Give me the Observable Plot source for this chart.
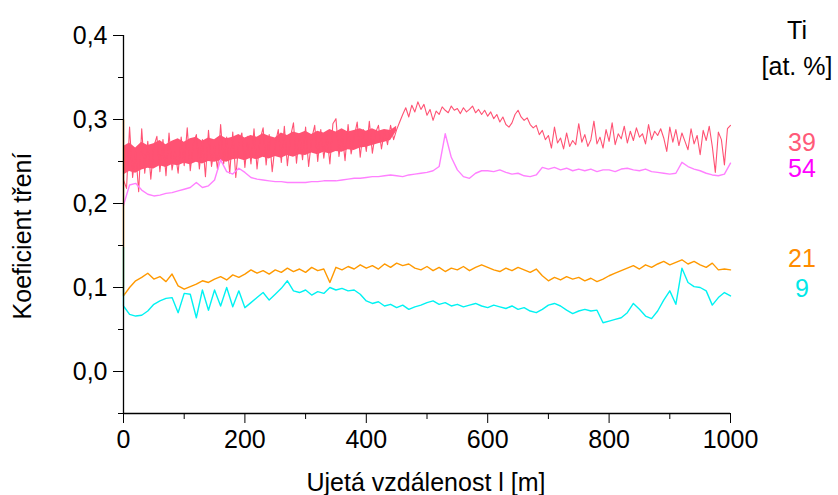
<!DOCTYPE html>
<html><head><meta charset="utf-8">
<script src="https://cdn.jsdelivr.net/npm/d3@7"></script>
<script src="https://cdn.jsdelivr.net/npm/@observablehq/plot@0.6"></script>
<style>
body{margin:0;background:#fff;}
#chart{position:relative;width:838px;height:495px;}
</style></head><body><div id="chart"></div>
<script>
// ---- data ----
const xTicks = [0, 200, 400, 600, 800, 1000];
const xMinor = [100, 300, 500, 700, 900];
const yTicks = [0, 0.1, 0.2, 0.3, 0.4];
const yMinor = [-0.05, 0.05, 0.15, 0.25, 0.35];
const tiLabels = ["39", "54", "21", "9"];

// Ti 39 (red), sampled every 5 m; start value at 0 m
const redStart = 0.300;
const red5 = [
0.228,0.218,0.291,0.231,0.262,0.214,0.289,0.236,0.274,0.229,
0.268,0.280,0.238,0.276,0.233,0.284,0.240,0.262,0.236,0.279,
0.245,0.290,0.239,0.271,0.282,0.241,0.276,0.232,0.287,0.244,
0.268,0.240,0.294,0.247,0.279,0.236,0.285,0.231,0.273,0.284,
0.243,0.280,0.247,0.289,0.241,0.276,0.290,0.246,0.282,0.238,
0.271,0.288,0.249,0.292,0.245,0.279,0.296,0.248,0.283,0.252,
0.291,0.244,0.277,0.293,0.250,0.288,0.254,0.282,0.247,0.295,
0.301,0.256,0.285,0.251,0.294,0.259,0.279,0.297,0.255,0.288,
0.262,0.298,0.260,0.284,0.293,0.265,0.287,0.270,0.293,0.276,
0.288,0.297,
0.306,0.314,0.303,0.317,0.309,0.321,0.312,0.318,0.305,0.312,
0.299,0.310,0.306,0.315,0.311,0.308,0.316,0.311,0.313,0.307,
0.314,0.309,0.312,0.316,0.308,0.312,0.306,0.311,0.304,0.309,
0.301,0.306,0.297,0.303,0.294,0.291,0.296,0.306,0.311,0.303,
0.299,0.302,0.294,0.290,0.293,0.282,0.287,0.276,0.281,0.266,
0.291,0.272,0.278,0.265,0.284,0.268,0.275,0.270,0.295,0.273,
0.282,0.268,0.276,0.298,0.271,0.279,0.266,0.288,0.274,0.296,
0.270,0.283,0.277,0.292,0.272,0.286,0.275,0.290,0.279,0.283,
0.271,0.294,0.276,0.286,0.281,0.289,0.278,0.262,0.291,0.273,
0.288,0.269,0.284,0.274,0.264,0.289,0.271,0.281,0.258,0.287,
0.275,0.292,0.268,0.237,0.285,0.276,0.246,0.289,0.293
];
// dense core of the Ti 39 band (every 10 m, 0–450 m)
const redCoreHi = [
0.268,0.272,0.266,0.273,0.269,0.271,0.275,0.270,0.274,0.277,
0.273,0.277,0.279,0.274,0.278,0.276,0.281,0.277,0.279,0.282,
0.278,0.281,0.279,0.283,0.280,0.278,0.284,0.281,0.285,0.283,
0.286,0.282,0.286,0.284,0.288,0.285,0.289,0.285,0.287,0.289,
0.286,0.289,0.286,0.288,0.287,0.292
];
const redCoreLo = [
0.234,0.238,0.236,0.240,0.242,0.241,0.245,0.243,0.246,0.245,
0.248,0.246,0.249,0.247,0.250,0.249,0.251,0.249,0.252,0.253,
0.251,0.254,0.252,0.255,0.253,0.256,0.254,0.257,0.255,0.258,
0.257,0.260,0.258,0.261,0.259,0.262,0.261,0.264,0.263,0.266,
0.267,0.269,0.271,0.273,0.275,0.286
];

// Ti 54 (magenta), every 10 m
const magenta10 = [
0.198,0.222,0.224,0.216,0.211,0.209,0.210,0.212,0.213,0.215,
0.217,0.219,0.225,0.219,0.221,0.228,0.252,0.238,0.235,0.242,
0.237,0.231,0.229,0.228,0.227,0.226,0.226,0.225,0.225,0.225,
0.225,0.226,0.226,0.227,0.227,0.227,0.228,0.229,0.230,0.230,
0.231,0.232,0.232,0.233,0.234,0.233,0.232,0.234,0.235,0.236,
0.237,0.239,0.244,0.283,0.255,0.240,0.232,0.230,0.236,0.239,
0.239,0.238,0.240,0.237,0.235,0.236,0.233,0.232,0.234,0.243,
0.241,0.243,0.240,0.242,0.239,0.241,0.239,0.241,0.238,0.240,
0.240,0.238,0.241,0.242,0.240,0.239,0.241,0.238,0.237,0.236,
0.235,0.236,0.249,0.244,0.241,0.239,0.236,0.234,0.233,0.235,
0.248
];

// Ti 21 (orange), every 10 m; start value at 0 m
const orangeStart = 0.300;
const orange10 = [
0.090,0.100,0.108,0.112,0.117,0.110,0.113,0.107,0.116,0.102,
0.098,0.101,0.104,0.108,0.106,0.110,0.113,0.109,0.115,0.112,
0.116,0.121,0.117,0.120,0.116,0.121,0.118,0.123,0.119,0.122,
0.118,0.124,0.120,0.122,0.106,0.124,0.121,0.125,0.122,0.127,
0.123,0.126,0.122,0.128,0.124,0.129,0.126,0.128,0.123,0.121,
0.125,0.120,0.124,0.119,0.123,0.121,0.125,0.120,0.124,0.127,
0.124,0.121,0.119,0.123,0.120,0.124,0.121,0.118,0.122,0.114,
0.108,0.112,0.109,0.113,0.110,0.112,0.108,0.111,0.107,0.110,
0.114,0.117,0.120,0.123,0.126,0.122,0.127,0.124,0.128,0.131,
0.127,0.130,0.133,0.128,0.131,0.127,0.124,0.129,0.121,0.122,
0.121
];

// Ti 9 (cyan), every 10 m; start value at 0 m
const cyanStart = 0.148;
const cyan10 = [
0.078,0.068,0.066,0.067,0.072,0.080,0.084,0.087,0.088,0.070,
0.093,0.092,0.064,0.097,0.073,0.097,0.078,0.100,0.077,0.096,
0.076,0.082,0.088,0.094,0.085,0.092,0.099,0.108,0.096,0.094,
0.097,0.091,0.095,0.093,0.100,0.097,0.099,0.096,0.097,0.092,
0.084,0.081,0.083,0.078,0.080,0.076,0.079,0.074,0.077,0.079,
0.082,0.084,0.080,0.082,0.078,0.080,0.077,0.079,0.081,0.078,
0.076,0.079,0.077,0.075,0.078,0.074,0.076,0.072,0.070,0.074,
0.079,0.081,0.078,0.073,0.069,0.072,0.074,0.072,0.073,0.058,
0.060,0.062,0.064,0.070,0.081,0.074,0.066,0.063,0.072,0.085,
0.096,0.080,0.123,0.106,0.101,0.100,0.096,0.079,0.088,0.094,
0.090
];

// ---- build tables ----
const series = (start, ys, step) => {
  const rows = ys.map((y, i) => ({x: i * step, y}));
  if (start != null) rows.unshift({x: 0, y: start});
  return rows;
};
const redRows = series(redStart, red5, 5);
const magRows = series(null, magenta10, 10);
const orRows = series(orangeStart, orange10, 10);
const cyRows = series(cyanStart, cyan10, 10);
const coreRows = redCoreHi.map((hi, i) => ({x: i * 10, lo: redCoreLo[i], hi}));

const C = {red: "#ff5273", mag: "#ff80ff", or: "#ff9900", cy: "#00f2f2"};
const labelColors = ["#ff5a78", "#ff00ff", "#ff8c00", "#00e8e8"];
const comma = d => d3.format(".1f")(d).replace(".", ",");
const FONT = "'Liberation Sans', Arial, sans-serif";

const chart = Plot.plot({
  width: 838, height: 495,
  marginLeft: 123, marginRight: 108, marginTop: 35, marginBottom: 82,
  x: {domain: [0, 1000]},
  y: {domain: [-0.05, 0.4]},
  style: {fontFamily: FONT, fontSize: "25px", color: "black", background: "white"},
  marks: [
    Plot.areaY(coreRows, {x: "x", y1: "lo", y2: "hi", fill: C.red}),
    Plot.lineY(redRows, {x: "x", y: "y", stroke: C.red, strokeWidth: 1.1}),
    Plot.lineY(magRows, {x: "x", y: "y", stroke: C.mag, strokeWidth: 1.4}),
    Plot.lineY(orRows, {x: "x", y: "y", stroke: C.or, strokeWidth: 1.4}),
    Plot.lineY(cyRows, {x: "x", y: "y", stroke: C.cy, strokeWidth: 1.4}),
    Plot.ruleX([0], {stroke: "black", strokeWidth: 1.3}),
    Plot.ruleY([-0.05], {stroke: "black", strokeWidth: 1.3}),
    Plot.axisX({ticks: xTicks, tickSize: 10, tickPadding: 7, tickFormat: d => String(d), label: null, fill: "black", stroke: "black"}),
    Plot.axisX({ticks: xMinor, tickSize: 6, tickFormat: () => "", label: null, stroke: "black"}),
    Plot.axisY({ticks: yTicks, tickSize: 10, tickPadding: 6, tickFormat: comma, label: null, fill: "black", stroke: "black"}),
    Plot.axisY({ticks: yMinor, tickSize: 5, tickFormat: () => "", label: null, stroke: "black"})
  ]
});
document.getElementById("chart").appendChild(chart);

const svg = d3.select(chart);
const addText = (x, y, t, fill, rot) => {
  const el = svg.append("text")
    .attr("x", x).attr("y", y)
    .attr("text-anchor", "middle").attr("dominant-baseline", "central")
    .attr("fill", fill).attr("font-size", 25)
    .attr("font-family", FONT)
    .text(t);
  if (rot) el.attr("transform", `rotate(-90 ${x} ${y})`);
};
addText(426, 482, "Ujetá vzdálenost l [m]", "black");
addText(22, 236, "Koeficient tření", "black", true);
addText(797, 30, "Ti", "black");
addText(797, 66, "[at. %]", "black");
const labelY = [142, 168, 258, 288];
tiLabels.forEach((t, i) => addText(802, labelY[i], t, labelColors[i]));
</script>
</body></html>
